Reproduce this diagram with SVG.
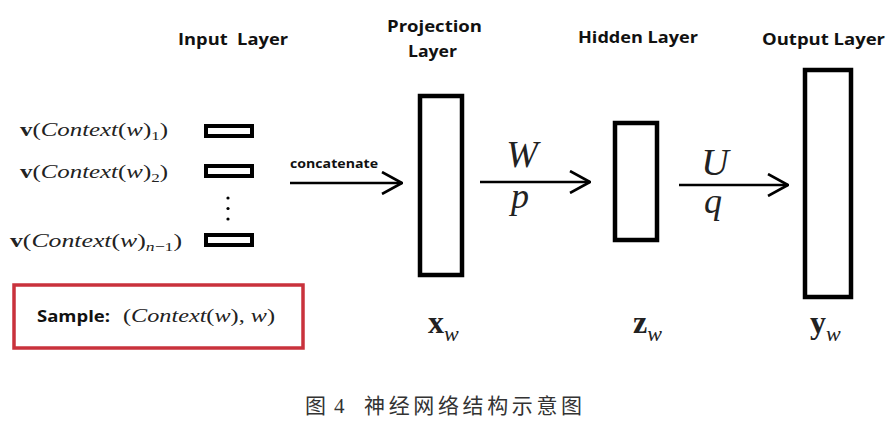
<svg xmlns="http://www.w3.org/2000/svg" width="891" height="431" viewBox="0 0 891 431">
<defs>
<style>
.title{font-family:"Open Sans","Liberation Sans",sans-serif;font-weight:bold;font-size:16px;fill:#111}
.math{font-family:"Liberation Serif","DejaVu Serif",serif;fill:#222}
.it{font-style:italic}
.bf{font-weight:bold}
.box{fill:#fff;stroke:#000;stroke-width:4.5}
.ibox{fill:#fff;stroke:#000;stroke-width:4}
.conn{stroke:#000;stroke-width:2.5;fill:none}
.cap{font-family:"Noto Sans CJK SC","Noto Sans CJK JP",sans-serif;font-size:21px;fill:#333}
</style>
<marker id="arr" viewBox="0 0 22 24" refX="21" refY="12" markerWidth="22" markerHeight="24" markerUnits="userSpaceOnUse" orient="auto">
<path d="M1,1 L21,12 L1,23" fill="none" stroke="#000" stroke-width="2.6"/>
</marker>
</defs>
<rect width="891" height="431" fill="#fff"/>

<g id="titles">
<text class="title" x="178" y="45" xml:space="preserve" textLength="110" lengthAdjust="spacingAndGlyphs">Input  Layer</text>
<text class="title" x="387" y="32" textLength="95" lengthAdjust="spacingAndGlyphs">Projection</text>
<text class="title" x="408" y="57" textLength="49" lengthAdjust="spacingAndGlyphs">Layer</text>
<text class="title" x="578" y="43" textLength="120" lengthAdjust="spacingAndGlyphs">Hidden Layer</text>
<text class="title" x="762" y="45" textLength="123" lengthAdjust="spacingAndGlyphs">Output Layer</text>
</g>

<g id="input-layer">
<text class="math" x="20" y="136" font-size="19" textLength="148" lengthAdjust="spacingAndGlyphs"><tspan class="bf">v</tspan>(<tspan class="it">Context</tspan>(<tspan class="it">w</tspan>)<tspan font-size="13" dy="4">1</tspan><tspan dy="-4">)</tspan></text>
<text class="math" x="20" y="178" font-size="19" textLength="148" lengthAdjust="spacingAndGlyphs"><tspan class="bf">v</tspan>(<tspan class="it">Context</tspan>(<tspan class="it">w</tspan>)<tspan font-size="13" dy="4">2</tspan><tspan dy="-4">)</tspan></text>
<text class="math" x="10" y="247" font-size="19" textLength="172" lengthAdjust="spacingAndGlyphs"><tspan class="bf">v</tspan>(<tspan class="it">Context</tspan>(<tspan class="it">w</tspan>)<tspan font-size="13" dy="4" class="it">n</tspan><tspan font-size="13">−1</tspan><tspan dy="-4">)</tspan></text>
<rect class="ibox" x="206" y="126" width="46" height="10"/>
<rect class="ibox" x="206" y="166" width="46" height="10"/>
<rect class="ibox" x="206" y="235" width="46" height="10"/>
<circle cx="228" cy="198" r="1.6" fill="#000"/>
<circle cx="228" cy="208.5" r="1.6" fill="#000"/>
<circle cx="228" cy="219" r="1.6" fill="#000"/>
</g>

<g id="sample">
<rect x="14" y="285" width="289" height="63" fill="#fff" stroke="#c9323c" stroke-width="3.5"/>
<text x="37" y="322" font-family="'Open Sans','Liberation Sans',sans-serif" font-weight="bold" font-size="16" fill="#111" textLength="73" lengthAdjust="spacingAndGlyphs">Sample:</text>
<text class="math" x="123" y="322" font-size="19" textLength="152" lengthAdjust="spacingAndGlyphs">(<tspan class="it">Context</tspan>(<tspan class="it">w</tspan>), <tspan class="it">w</tspan>)</text>
</g>

<g id="projection-layer">
<rect class="box" x="420" y="96" width="42" height="179"/>
<text class="math" x="428" y="333" font-size="32" font-weight="bold" fill="#111">x<tspan font-size="22" font-weight="normal" font-style="italic" dy="8">w</tspan></text>
</g>

<g id="hidden-layer">
<rect class="box" x="615" y="123" width="42" height="117"/>
<text class="math" x="633" y="333" font-size="32" font-weight="bold" fill="#111">z<tspan font-size="22" font-weight="normal" font-style="italic" dy="8">w</tspan></text>
</g>

<g id="output-layer">
<rect class="box" x="805" y="70" width="46" height="227"/>
<text class="math" x="810" y="333" font-size="32" font-weight="bold" fill="#111">y<tspan font-size="22" font-weight="normal" font-style="italic" dy="8">w</tspan></text>
</g>

<g id="connectors">
<line class="conn" x1="290" y1="183" x2="402" y2="183" marker-end="url(#arr)"/>
<text x="290" y="168" font-family="'Open Sans','Liberation Sans',sans-serif" font-weight="bold" font-size="12" fill="#111" textLength="88" lengthAdjust="spacingAndGlyphs">concatenate</text>
<line class="conn" x1="480" y1="182" x2="590" y2="182" marker-end="url(#arr)"/>
<text class="math it" x="522" y="167" font-size="38" text-anchor="middle">W</text>
<text class="math it" x="520" y="208" font-size="36" text-anchor="middle">p</text>
<line class="conn" x1="679" y1="185" x2="788" y2="185" marker-end="url(#arr)"/>
<text class="math it" x="715" y="175" font-size="38" text-anchor="middle">U</text>
<text class="math it" x="713" y="213" font-size="36" text-anchor="middle">q</text>
</g>

<g id="caption">
<text class="cap" y="413"><tspan x="305">图</tspan><tspan x="334" font-family="'Liberation Serif',serif">4</tspan><tspan x="364" textLength="218" lengthAdjust="spacing">神经网络结构示意图</tspan></text>
</g>
</svg>
